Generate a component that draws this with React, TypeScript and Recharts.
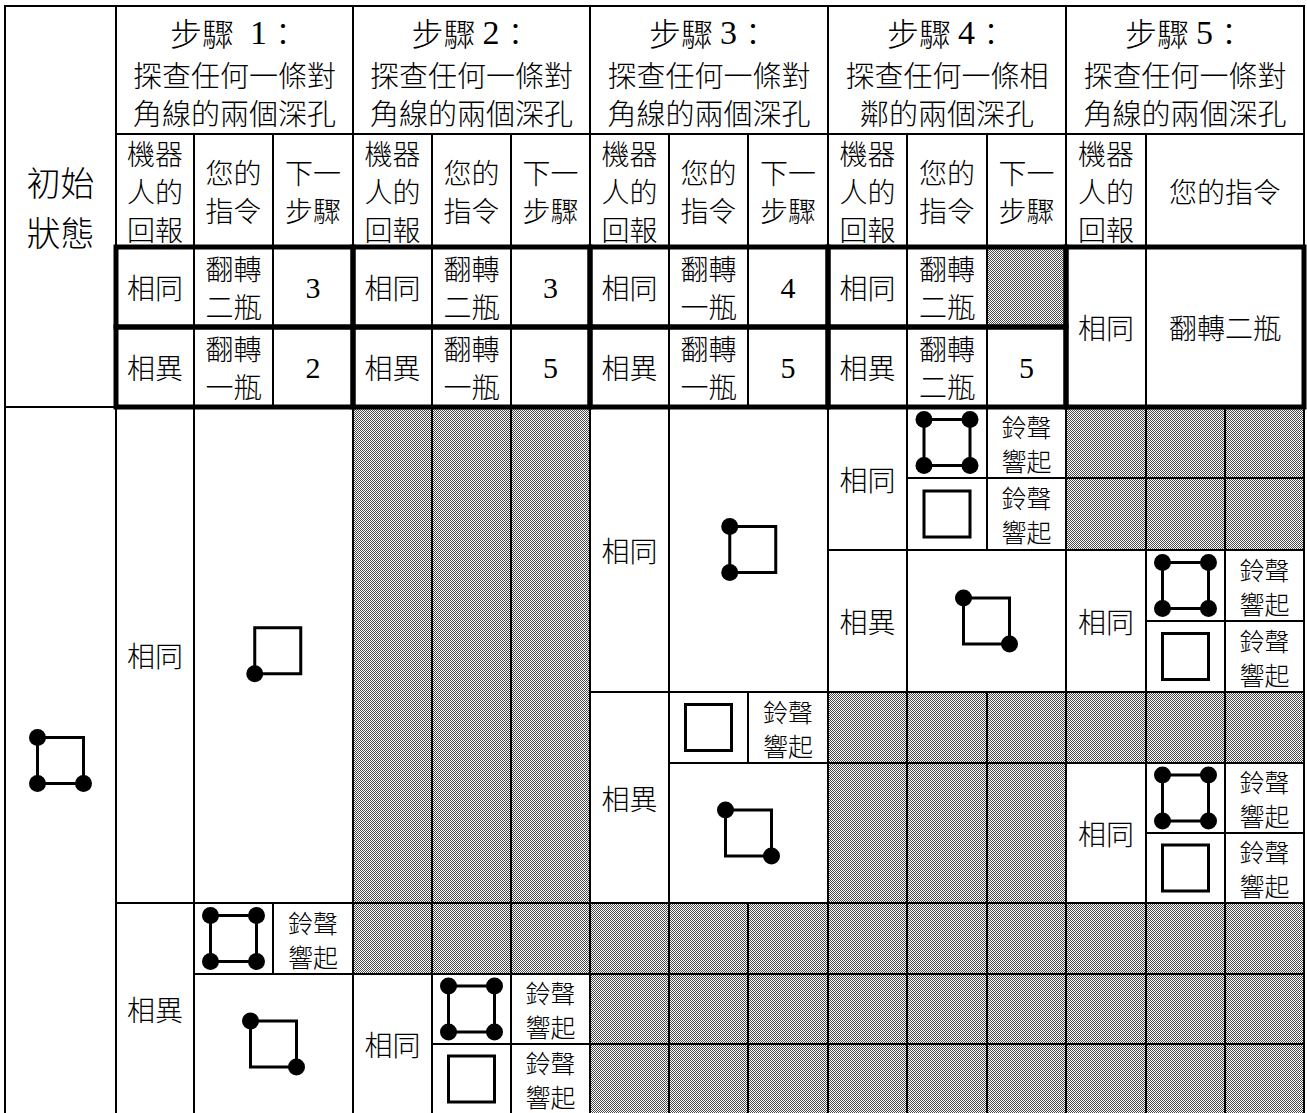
import React from 'react';
import { ScatterChart, Scatter, XAxis, YAxis, ReferenceArea } from 'recharts';

const W = 1307;
const H = 1113;

// 表格格線(以原圖座標為單位)
const colEdges = [5, 116, 194, 273, 353, 432, 511, 590, 669, 748, 828, 907, 987, 1066, 1146, 1225, 1304];
const rowEdges = [6, 134, 247, 327, 407, 478, 550, 621, 692, 763, 833, 903, 974, 1044, 1114];

const initLabel = ['初始', '狀態'];
const stepTitles = ['步驟\u20021：', '步驟 2：', '步驟 3：', '步驟 4：', '步驟 5：'];
const stepTasks = [
  ['探查任何一條對', '角線的兩個深孔'],
  ['探查任何一條對', '角線的兩個深孔'],
  ['探查任何一條對', '角線的兩個深孔'],
  ['探查任何一條相', '鄰的兩個深孔'],
  ['探查任何一條對', '角線的兩個深孔'],
];
const subHeads = [['機器', '人的', '回報'], ['您的', '指令'], ['下一', '步驟']];
const lastSubHeads = [['機器', '人的', '回報'], ['您的指令']];

const replies = ['相同', '相異'];
// 步驟 1-4 的指令與下一步驟(相同 / 相異)
const commands = [
  [['翻轉', '二瓶'], ['翻轉', '一瓶']],
  [['翻轉', '二瓶'], ['翻轉', '一瓶']],
  [['翻轉', '一瓶'], ['翻轉', '一瓶']],
  [['翻轉', '二瓶'], ['翻轉', '二瓶']],
];
const nextSteps = [['3', '2'], ['3', '5'], ['4', '5'], [null, '5']];
const lastCommand = '翻轉二瓶';

const BELL = ['鈴聲', '響起'];
const ALL = 'TL TR BL BR';

// [c0, c1, r0, r1, 文字]
const bottomLabels: [number, number, number, number, string[]][] = [
  [1, 2, 4, 11, ['相同']], [1, 2, 11, 14, ['相異']], [3, 4, 11, 12, BELL],
  [4, 5, 12, 14, ['相同']], [6, 7, 12, 13, BELL], [6, 7, 13, 14, BELL],
  [7, 8, 4, 8, ['相同']], [7, 8, 8, 11, ['相異']], [9, 10, 8, 9, BELL],
  [10, 11, 4, 6, ['相同']], [12, 13, 4, 5, BELL], [12, 13, 5, 6, BELL], [10, 11, 6, 8, ['相異']],
  [13, 14, 6, 8, ['相同']], [15, 16, 6, 7, BELL], [15, 16, 7, 8, BELL],
  [13, 14, 9, 11, ['相同']], [15, 16, 9, 10, BELL], [15, 16, 10, 11, BELL],
];

// [c0, c1, r0, r1, 深孔位置]
const bottomIcons: [number, number, number, number, string][] = [
  [0, 1, 4, 14, 'TL BL BR'],
  [2, 4, 4, 11, 'BL'], [2, 3, 11, 12, ALL], [2, 4, 12, 14, 'TL BR'],
  [5, 6, 12, 13, ALL], [5, 6, 13, 14, ''],
  [8, 10, 4, 8, 'TL BL'], [8, 9, 8, 9, ''], [8, 10, 9, 11, 'TL BR'],
  [11, 12, 4, 5, ALL], [11, 12, 5, 6, ''], [11, 13, 6, 8, 'TL BR'],
  [14, 15, 6, 7, ALL], [14, 15, 7, 8, ''], [14, 15, 9, 10, ALL], [14, 15, 10, 11, ''],
];

// 灰色格:[起始欄, 欄數, r0, r1](每欄各一格)
const grayRuns: [number, number, number, number][] = [
  [12, 1, 2, 3],
  [4, 3, 4, 11], [4, 3, 11, 12],
  [7, 3, 11, 12], [7, 3, 12, 13], [7, 3, 13, 14],
  [10, 3, 8, 9], [10, 3, 9, 11], [10, 3, 11, 12], [10, 3, 12, 13], [10, 3, 13, 14],
  [13, 3, 4, 5], [13, 3, 5, 6], [13, 3, 8, 9], [13, 3, 11, 12], [13, 3, 12, 13], [13, 3, 13, 14],
];

type Box = { c0: number; c1: number; r0: number; r1: number };
type TextCell = Box & { lines: string[]; f: string };
type IconCell = Box & { dots: string };

const textCells: TextCell[] = [];
textCells.push({ c0: 0, c1: 1, r0: 0, r1: 4, lines: initLabel, f: 'big' });
stepTitles.forEach((t, i) => {
  const c = 1 + i * 3;
  textCells.push({ c0: c, c1: c + 3, r0: 0, r1: 1, lines: [t, ...stepTasks[i]], f: 'head' });
  if (i < 4) {
    subHeads.forEach((h, k) => textCells.push({ c0: c + k, c1: c + k + 1, r0: 1, r1: 2, lines: h, f: 'md' }));
    replies.forEach((rep, j) => {
      textCells.push({ c0: c, c1: c + 1, r0: 2 + j, r1: 3 + j, lines: [rep], f: 'md' });
      textCells.push({ c0: c + 1, c1: c + 2, r0: 2 + j, r1: 3 + j, lines: commands[i][j], f: 'md' });
      const n = nextSteps[i][j];
      if (n) textCells.push({ c0: c + 2, c1: c + 3, r0: 2 + j, r1: 3 + j, lines: [n], f: 'num' });
    });
  } else {
    textCells.push({ c0: c, c1: c + 1, r0: 1, r1: 2, lines: lastSubHeads[0], f: 'md' });
    textCells.push({ c0: c + 1, c1: c + 3, r0: 1, r1: 2, lines: lastSubHeads[1], f: 'md' });
    textCells.push({ c0: c, c1: c + 1, r0: 2, r1: 4, lines: [replies[0]], f: 'md' });
    textCells.push({ c0: c + 1, c1: c + 3, r0: 2, r1: 4, lines: [lastCommand], f: 'md' });
  }
});
bottomLabels.forEach(([c0, c1, r0, r1, lines]) =>
  textCells.push({ c0, c1, r0, r1, lines, f: lines === BELL ? 'sm' : 'md' })
);

const iconCells: IconCell[] = bottomIcons.map(([c0, c1, r0, r1, dots]) => ({ c0, c1, r0, r1, dots }));

const grayCells: Box[] = [];
grayRuns.forEach(([cs, n, r0, r1]) => {
  for (let k = 0; k < n; k++) grayCells.push({ c0: cs + k, c1: cs + k + 1, r0, r1 });
});

// 粗框:步驟 1-4 的兩列,步驟 5 合併
const thickBoxes: Box[] = [];
for (let i = 0; i < 4; i++) {
  thickBoxes.push({ c0: 1 + i * 3, c1: 4 + i * 3, r0: 2, r1: 3 });
  thickBoxes.push({ c0: 1 + i * 3, c1: 4 + i * 3, r0: 3, r1: 4 });
}
thickBoxes.push({ c0: 13, c1: 16, r0: 2, r1: 4 });

const center = (b: Box) => ({
  x: (colEdges[b.c0] + colEdges[b.c1]) / 2,
  y: (rowEdges[b.r0] + rowEdges[b.r1]) / 2,
});

const textData = textCells.map((t) => ({ ...center(t), lines: t.lines, f: t.f }));
const iconData = iconCells.map((t) => ({ ...center(t), dots: t.dots }));

const CJK = '"Noto Sans CJK TC Light", "Noto Sans CJK TC DemiLight", "Noto Sans CJK TC", "Noto Sans CJK SC", sans-serif';
const SERIF = '"Liberation Serif", "DejaVu Serif", serif';

const fontSpec: Record<string, { sizes: number[]; offsets: number[] }> = {
  big: { sizes: [34, 34], offsets: [-26, 24] },
  head: { sizes: [32, 29, 29], offsets: [-38, 4, 42] },
  md: { sizes: [28, 28, 28], offsets: [] },
  sm: { sizes: [25, 25], offsets: [-17, 17] },
  num: { sizes: [30], offsets: [0] },
};

const runs = (s: string) => s.split(/(\d+)/).filter((p) => p !== '');

// 多行文字放在同一個 <text> 中
const TextShape = (props: any) => {
  const { cx, cy, payload } = props;
  const spec = fontSpec[payload.f];
  const n = payload.lines.length;
  return (
    <text
      textAnchor="middle"
      dominantBaseline="central"
      fontFamily={CJK}
      fontWeight={300}
      fill="#000"
      style={{ whiteSpace: 'pre' }}
    >
      {payload.lines.map((ln: string, i: number) => {
        const dy = spec.offsets.length ? spec.offsets[i] : (i - (n - 1) / 2) * 38;
        const size = spec.sizes[i] ?? spec.sizes[0];
        return (
          <tspan key={i} x={cx} y={cy + dy} fontSize={size} dominantBaseline="central">
            {runs(ln).map((p, k) =>
              /^\d+$/.test(p) ? (
                <tspan key={k} fontFamily={SERIF} fontWeight={400} fontSize={payload.f === 'head' ? 34 : size}>
                  {p}
                </tspan>
              ) : (
                <tspan key={k}>{p}</tspan>
              )
            )}
          </tspan>
        );
      })}
    </text>
  );
};

const IconShape = (props: any) => {
  const { cx, cy, payload } = props;
  const h = 23;
  const r = 8.5;
  const d: string[] = payload.dots ? payload.dots.split(' ') : [];
  const left = d.some((k) => k[1] === 'L');
  const right = d.some((k) => k[1] === 'R');
  const top = d.some((k) => k[0] === 'T');
  const bottom = d.some((k) => k[0] === 'B');
  const ox = cx + (left && !right ? r / 2 : right && !left ? -r / 2 : 0);
  const oy = cy + (top && !bottom ? r / 2 : bottom && !top ? -r / 2 : 0);
  return (
    <g>
      <rect x={ox - h} y={oy - h} width={h * 2} height={h * 2} fill="none" stroke="#000" strokeWidth={3} />
      {d.map((k) => (
        <circle
          key={k}
          cx={ox + (k[1] === 'L' ? -h : h)}
          cy={oy + (k[0] === 'T' ? -h : h)}
          r={r}
          fill="#000"
        />
      ))}
    </g>
  );
};

export default function App() {
  return (
    <div style={{ position: 'absolute', left: 0, top: 0, width: W, height: H, background: '#fff' }}>
      <ScatterChart width={W} height={H} margin={{ top: 0, right: 0, bottom: 0, left: 0 }}>
        <defs>
          <pattern id="dither" width="2" height="2" patternUnits="userSpaceOnUse">
            <rect width="2" height="2" fill="#ffffff" />
            <rect width="1" height="1" fill="#4a4a4a" />
            <rect x="1" y="1" width="1" height="1" fill="#4a4a4a" />
          </pattern>
        </defs>
        <XAxis type="number" dataKey="x" domain={[0, W]} hide />
        <YAxis type="number" dataKey="y" domain={[0, H]} reversed hide width={0} />

        {[...textCells, ...iconCells].map((b, i) => (
          <ReferenceArea
            key={`w${i}`}
            x1={colEdges[b.c0]}
            x2={colEdges[b.c1]}
            y1={rowEdges[b.r0]}
            y2={rowEdges[b.r1]}
            fill="#fff"
            fillOpacity={1}
            stroke="#000"
            strokeWidth={2}
            ifOverflow="hidden"
          />
        ))}
        {grayCells.map((b, i) => (
          <ReferenceArea
            key={`g${i}`}
            x1={colEdges[b.c0]}
            x2={colEdges[b.c1]}
            y1={rowEdges[b.r0]}
            y2={rowEdges[b.r1]}
            fill="url(#dither)"
            fillOpacity={1}
            stroke="#000"
            strokeWidth={2}
            ifOverflow="hidden"
          />
        ))}
        {thickBoxes.map((b, i) => (
          <ReferenceArea
            key={`t${i}`}
            x1={colEdges[b.c0]}
            x2={colEdges[b.c1]}
            y1={rowEdges[b.r0]}
            y2={rowEdges[b.r1]}
            fill="none"
            fillOpacity={0}
            stroke="#000"
            strokeWidth={5}
            ifOverflow="hidden"
          />
        ))}

        <Scatter data={iconData} shape={IconShape} isAnimationActive={false} />
        <Scatter data={textData} shape={TextShape} isAnimationActive={false} />
      </ScatterChart>
    </div>
  );
}
